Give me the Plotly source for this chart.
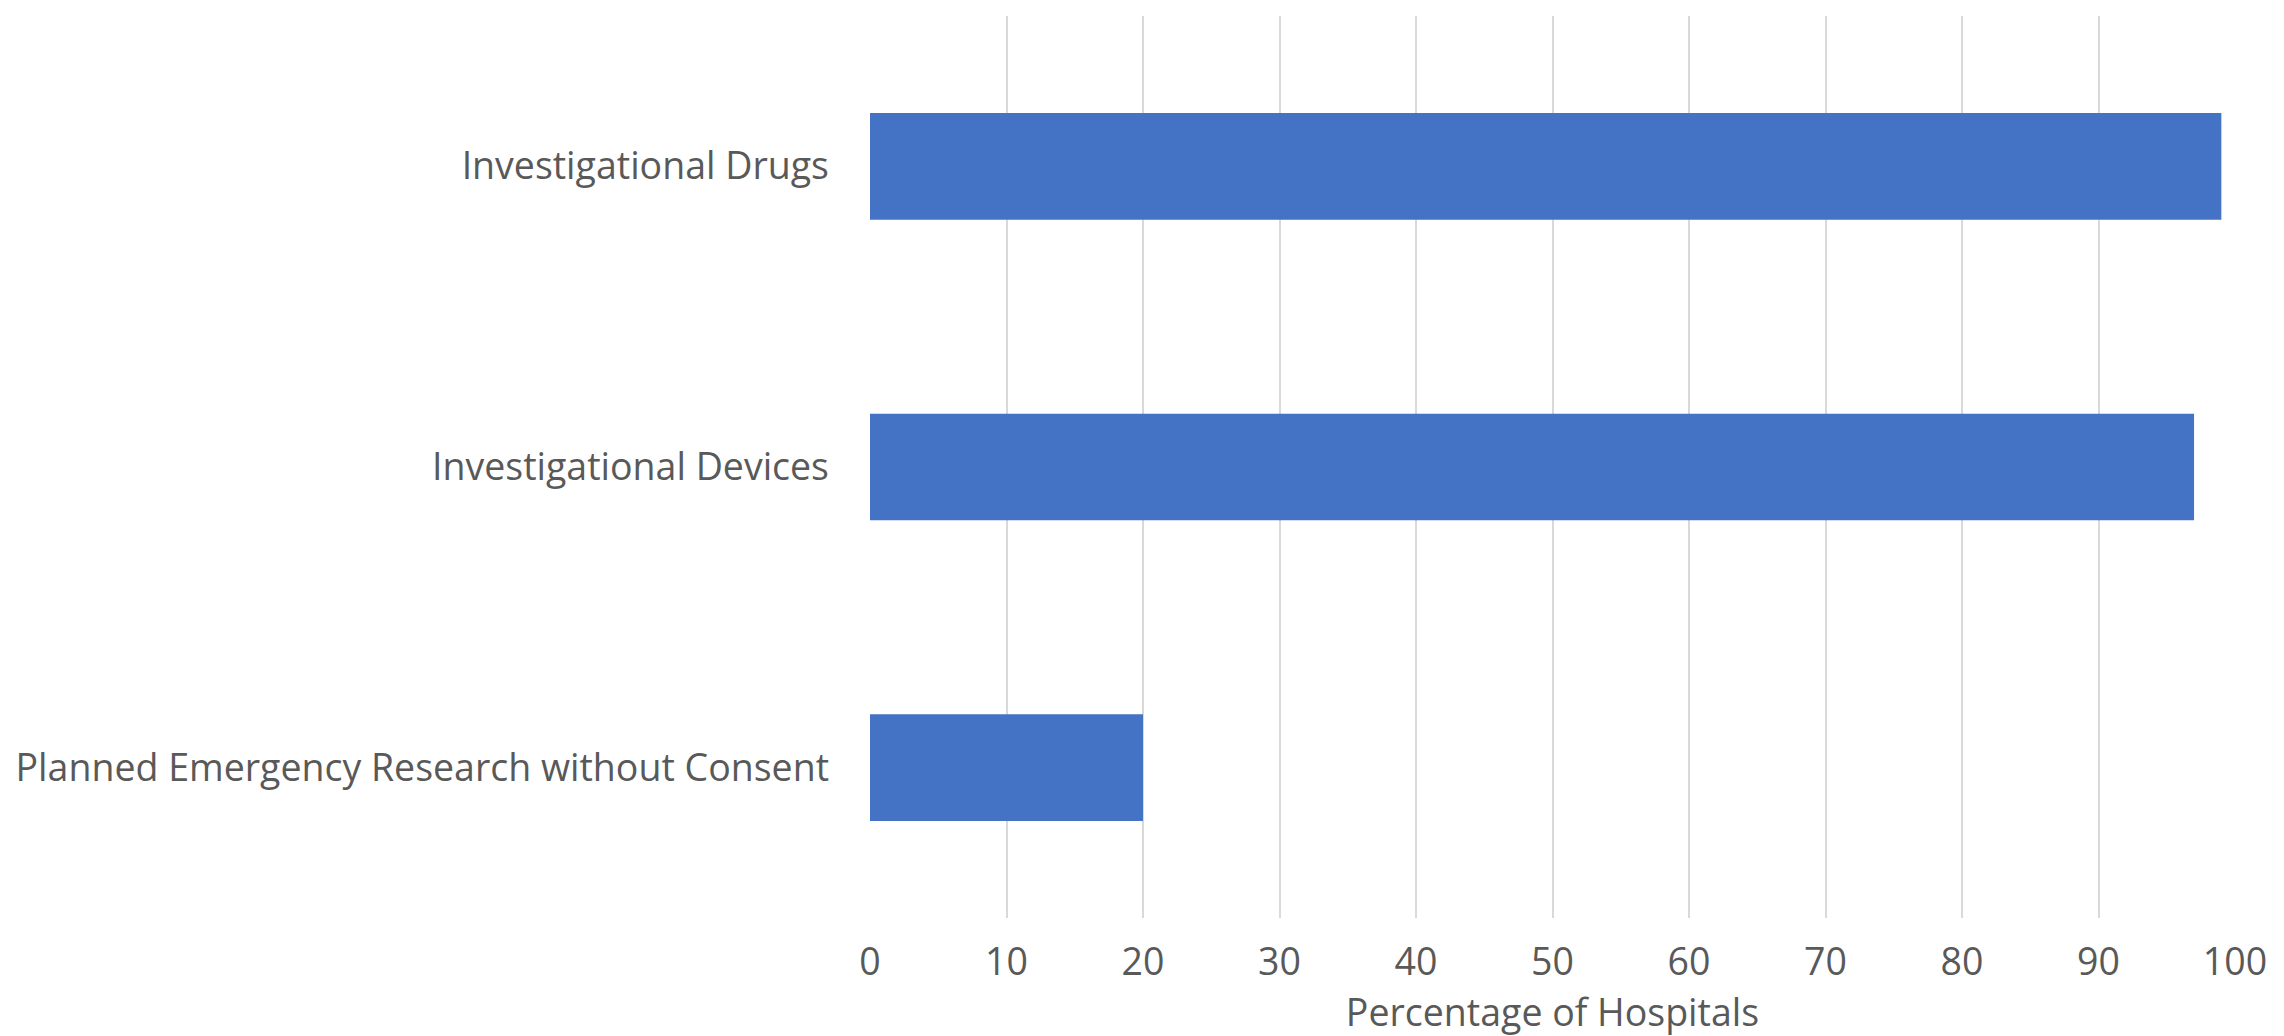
import plotly.graph_objects as go

categories = ["Planned Emergency Research without Consent", "Investigational Devices", "Investigational Drugs"]
values = [20, 97, 99]
x_ticks = [0, 10, 20, 30, 40, 50, 60, 70, 80, 90, 100]
x_title = "Percentage of Hospitals"

FONT = "Open Sans"
TXT = "#595959"
FS = 37.5

fig = go.Figure(go.Bar(
    y=categories, x=values, orientation="h",
    marker=dict(color="#4472C4", line=dict(width=0)),
    width=0.355,
))

fig.update_layout(
    width=2284, height=1036,
    margin=dict(l=860, r=57, t=8, b=126),
    plot_bgcolor="white", paper_bgcolor="white",
    showlegend=False,
    font=dict(family=FONT, size=FS, color=TXT),
)
fig.update_xaxes(
    range=[0, 100], tickvals=x_ticks, showgrid=True, gridcolor="#d9d9d9", gridwidth=2,
    zeroline=False, showline=False, ticks="", ticklabelstandoff=18,
    tickfont=dict(family=FONT, size=FS, color=TXT),
    title=dict(text=x_title, font=dict(family=FONT, size=FS, color=TXT), standoff=13),
)
fig.update_yaxes(
    showgrid=False, zeroline=False, showline=False, ticks="", ticklabelstandoff=40,
    tickfont=dict(family=FONT, size=FS, color=TXT),
)

fig.write_html("out.html")
